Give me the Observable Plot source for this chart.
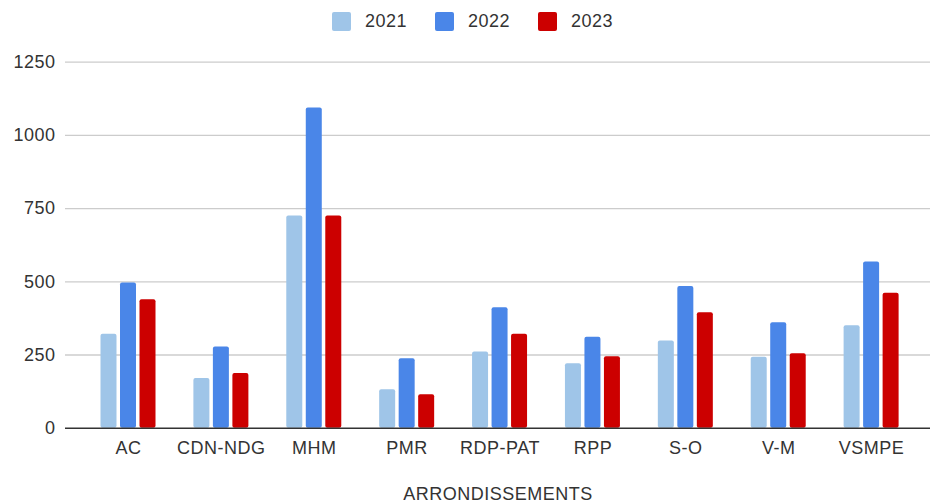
<!DOCTYPE html>
<html>
<head>
<meta charset="utf-8">
<script src="https://cdn.jsdelivr.net/npm/d3@7"></script>
<script src="https://cdn.jsdelivr.net/npm/@observablehq/plot@0.6"></script>
<style>
  html, body { margin: 0; padding: 0; background: #fff; }
  body { width: 930px; height: 504px; overflow: hidden; font-family: "Liberation Sans", Arial, sans-serif; }
  #legend { height: 42px; display: flex; justify-content: center; align-items: center; padding-left: 15px; box-sizing: border-box; font-size: 18px; letter-spacing: 0.5px; color: #333; }
  .item { display: flex; align-items: center; margin: 0 14px; }
  .sw { width: 19px; height: 19px; border-radius: 2px; margin-right: 14px; }
  svg { display: block; }
</style>
</head>
<body>
<div id="legend"></div>
<div id="chart"></div>
<script>
const categories = ["AC", "CDN-NDG", "MHM", "PMR", "RDP-PAT", "RPP", "S-O", "V-M", "VSMPE"];
const years = ["2021", "2022", "2023"];
const values2021 = [321, 170, 725, 131, 260, 220, 298, 242, 350];
const values2022 = [496, 277, 1094, 237, 411, 311, 484, 360, 568];
const values2023 = [439, 187, 725, 114, 321, 244, 394, 254, 461];
const yTicks = [0, 250, 500, 750, 1000, 1250];
const colors = ["#9fc5e8", "#4a86e8", "#cc0000"];
const xTitle = "ARRONDISSEMENTS";

const seriesValues = [values2021, values2022, values2023];
const data = years.flatMap((yr, i) => categories.map((c, j) => ({category: c, year: yr, value: seriesValues[i][j]})));

// legend
const legend = document.getElementById("legend");
years.forEach((yr, i) => {
  const it = document.createElement("div");
  it.className = "item";
  const sw = document.createElement("div");
  sw.className = "sw";
  sw.style.background = colors[i];
  const t = document.createElement("span");
  t.textContent = yr;
  it.appendChild(sw); it.appendChild(t);
  legend.appendChild(it);
});

const barW = 16;
const step = (917.5 - 81.5) / categories.length;
const insetLefts = [19, 38.5, 58];

const chart = Plot.plot({
  width: 930,
  height: 462,
  marginLeft: 65,
  marginRight: 0,
  marginTop: 19.7,
  marginBottom: 76.3,
  style: "font-family: 'Liberation Sans', Arial, sans-serif; font-size: 18px; letter-spacing: 0.5px; color: #333; background: #fff;",
  x: {domain: categories, range: [81.5, 917.5], padding: 0, round: false, tickSize: 0, tickPadding: 13, label: null},
  y: {domain: [0, 1250], ticks: yTicks, tickFormat: d => String(d), tickSize: 0, tickPadding: 10, label: null},
  color: {domain: years, range: colors},
  marks: [
    Plot.ruleY(yTicks.filter(d => d > 0), {stroke: "#cccccc", strokeWidth: 1.3}),
    ...years.map((yr, i) => Plot.barY(data.filter(d => d.year === yr), {
      x: "category", y: "value", fill: "year",
      insetLeft: insetLefts[i], insetRight: step - insetLefts[i] - barW, rx: 2
    })),
    Plot.ruleY([0], {stroke: "#333", strokeWidth: 1.6}),
    Plot.text([xTitle], {frameAnchor: "bottom", lineAnchor: "bottom", dy: 72, fontSize: 18, fill: "#333"})
  ]
});
document.getElementById("chart").appendChild(chart);
</script>
</body>
</html>
